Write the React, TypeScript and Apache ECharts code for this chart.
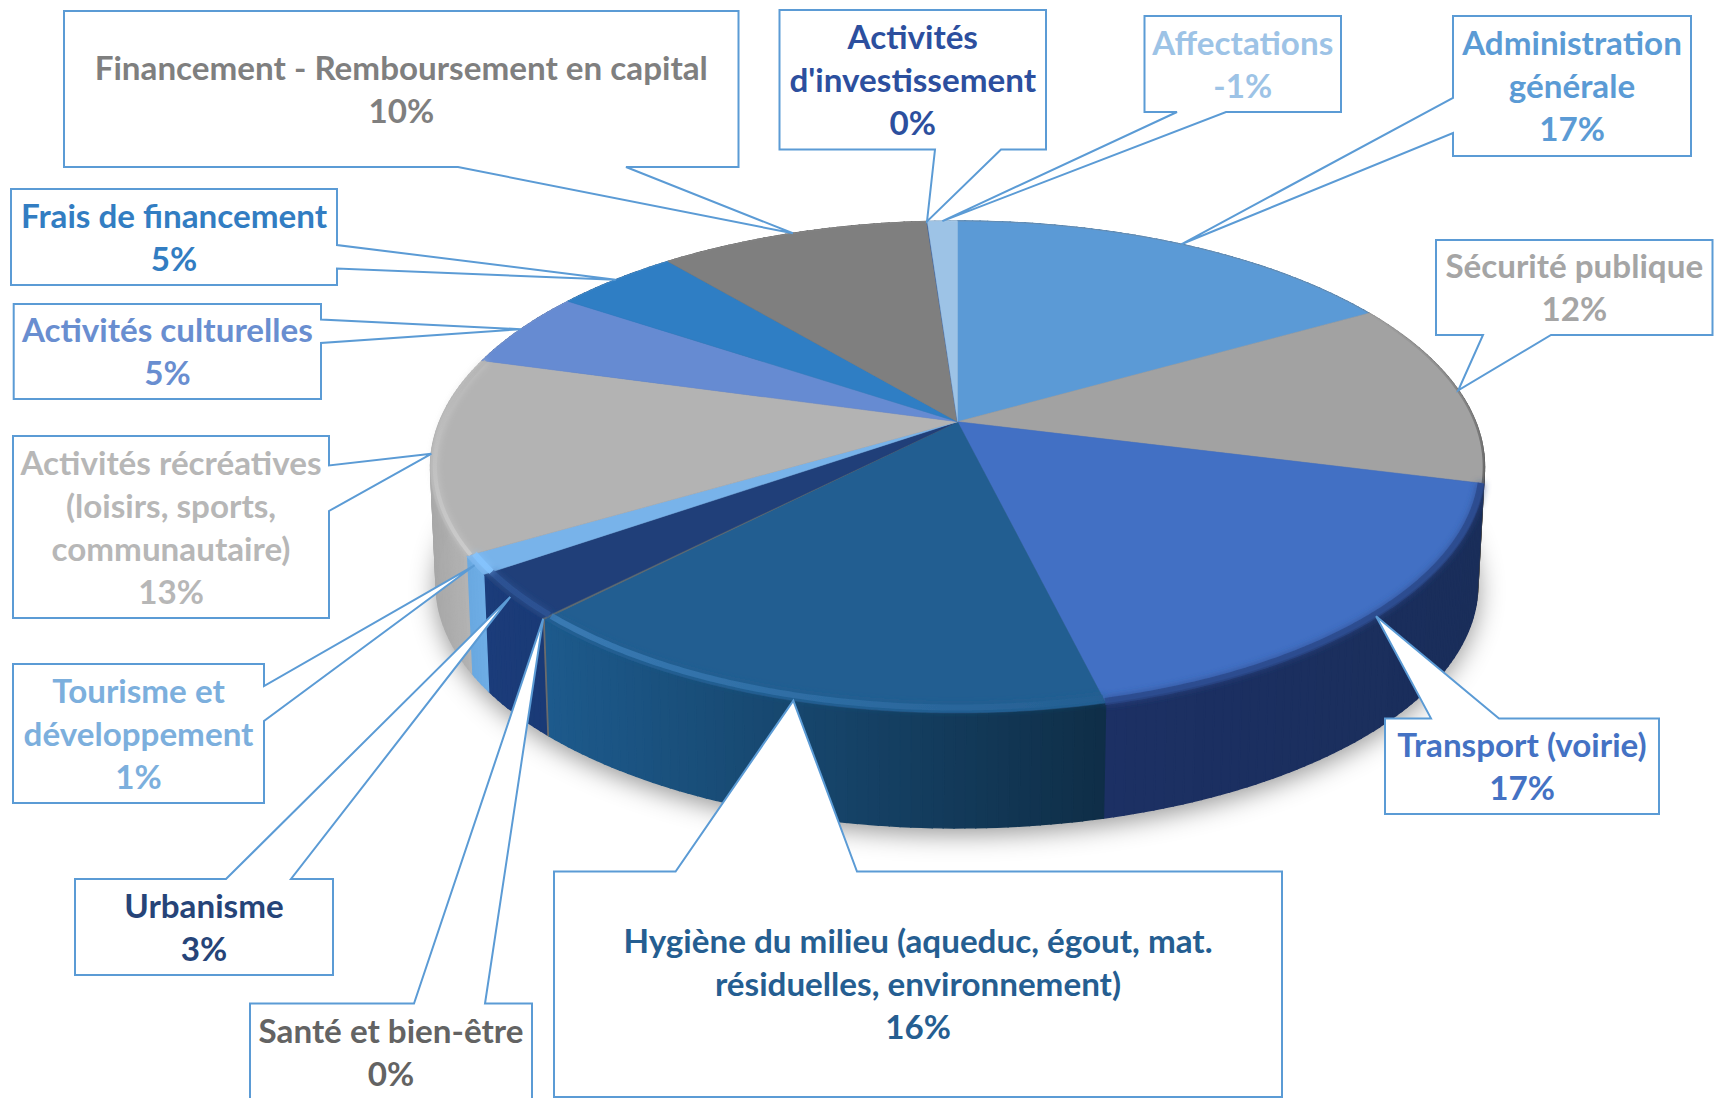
import React, { useEffect, useRef } from "react";
import * as echarts from "echarts";

// ---- data (share of spending, clockwise from 12 o'clock)
const categories = [
  "Administration\ngénérale",
  "Sécurité publique",
  "Transport (voirie)",
  "Hygiène du milieu (aqueduc, égout, mat.\nrésiduelles, environnement)",
  "Santé et bien-être",
  "Urbanisme",
  "Tourisme et\ndéveloppement",
  "Activités récréatives\n(loisirs, sports,\ncommunautaire)",
  "Activités culturelles",
  "Frais de financement",
  "Financement - Remboursement en capital",
  "Activités\nd'investissement",
  "Affectations",
];
const values = [16.7, 12.3, 17.25, 15.95, 0.08, 3.0, 1.2, 12.9, 5.1, 4.55, 9.9, 0.02, -1.1];

// ---- styles
const topColors = ["#5b9ad6", "#a2a2a2", "#4270c4", "#225e91", "#5f6a70", "#203f79", "#78b3ea", "#b3b3b3", "#668bd2", "#2f7ec4", "#7f7f7f", "#2f5597", "#9dc3e6"];
const textColors = ["#5b9bd5", "#a5a5a5", "#4472c4", "#255e91", "#636363", "#264478", "#7cafdd", "#b7b7b7", "#698ed0", "#327dc2", "#7f7f7f", "#2c4f9e", "#9dc3e6"];
const sideColors: string[][] = [
  ["#3c6f9e", "#3c6f9e"], ["#5a5a5a", "#4a4a4a"], ["#1c3064", "#1a2e5a"], ["#1d5a8c", "#0f2e47"], ["#6b6b6b", "#6b6b6b"],
  ["#1b3c7a", "#1a3a76"], ["#6aa8e0", "#6eaee6"], ["#a8a8a8", "#b8b8b8"], ["#4a6ba8", "#4a6ba8"], ["#20598e", "#20598e"],
  ["#5a5a5a", "#5a5a5a"], ["#1f3c6c", "#1f3c6c"], ["#7390ac", "#7390ac"],
];
// rim shading: colour at the start and end of a gradient, its direction, width and inset
const rimFrom = ["#6f8fae", "#a2a2a2", "#2a4788", "#3f82bd", "#6b6b6b", "#2e5596", "#86c5ff", "#b3b3b3", "#7a97d2", "#4a8fcc", "#8c8c8c", "#2f5597", "#a8c8e6"];
const rimTo = ["#6f8fae", "#555555", "#2a4788", "#245f92", "#6b6b6b", "#2e5596", "#86c5ff", "#d0d0d0", "#7a97d2", "#4a8fcc", "#8c8c8c", "#2f5597", "#a8c8e6"];
const rimDownward = [false, true, false, false, false, false, false, false, false, false, false, false, false];
const rimUpward = [false, false, false, false, false, false, false, true, false, false, false, false, false];
const rimWidths = [1, 2.5, 7, 6, 1, 6, 6, 4, 1, 1, 1, 1, 1];
const rimInsets = [1, 0.999, 0.996, 0.985, 1, 0.985, 0.985, 0.992, 1, 1, 1, 1, 1];

// ---- layout
const W = 1714;
const H = 1098;
const FACE = { cx: 957.5, cy: 421.7, R: 518, S: 237.6 };
const BASE = { cx: 957, cy: 540, R: 512, S: 235 };
const K = 5.44;
const WALL_STEPS_PER_TURN = 360;
// [left, top, right, bottom, side the pointer leaves from, pointer base a, pointer base b]
const boxes: [number, number, number, number, string, number, number][] = [
  [1453, 16, 1691, 156, "left", 98, 133],
  [1436, 240, 1712.5, 335, "bottom", 1483, 1551],
  [1385, 718.4, 1659, 814, "top", 1431, 1499],
  [554, 871.5, 1282, 1097, "top", 675.6, 857],
  [250, 1003.6, 532, 1101, "top", 414, 485],
  [75, 879, 333, 975, "top", 226, 291],
  [13, 664, 264, 803, "right", 686, 721],
  [13, 436, 329, 618, "right", 465.5, 511],
  [13.7, 304, 321, 399, "right", 319.5, 343],
  [11, 189, 337, 285, "right", 245, 268.5],
  [64, 11, 738.5, 167, "bottom", 458, 626],
  [779.5, 10, 1046, 149.5, "bottom", 935, 1001],
  [1144.5, 16, 1341, 112, "bottom", 1177, 1226],
];

const shares = values.map((v) => Math.abs(v));
const total = shares.reduce((a, b) => a + b, 0);
const startFrac = shares.map((_, i) => shares.slice(0, i).reduce((a, b) => a + b, 0) / total);
const endFrac = shares.map((_, i) => startFrac[i] + shares[i] / total);

type Disc = { cx: number; cy: number; R: number; S: number };
function project(frac: number, d: Disc, r = 1): number[] {
  const t = frac * Math.PI * 2;
  const u = Math.sin(t) * r;
  const v = -Math.cos(t) * r;
  const f = K / (K - v);
  return [d.cx + d.R * u * f, d.cy + d.S * v * f];
}
function arc(a: number, b: number, d: Disc, r = 1, perTurn = 720): number[][] {
  const n = Math.max(1, Math.ceil((b - a) * perTurn));
  const pts: number[][] = [];
  for (let i = 0; i <= n; i++) pts.push(project(a + ((b - a) * i) / n, d, r));
  return pts;
}

function buildOption() {
  const seriesData = values.map((v) => [v]);
  const graphicEls: any[] = [];
  boxes.forEach((b, i) => {
    const [l, t, r, btm, side, a, c] = b;
    const tip = project((startFrac[i] + endFrac[i]) / 2, FACE);
    let pts: number[][];
    if (side === "bottom") pts = [[l, t], [r, t], [r, btm], [c, btm], tip, [a, btm], [l, btm]];
    else if (side === "top") pts = [[l, t], [a, t], tip, [c, t], [r, t], [r, btm], [l, btm]];
    else if (side === "right") pts = [[l, t], [r, t], [r, a], tip, [r, c], [r, btm], [l, btm]];
    else pts = [[l, t], [r, t], [r, btm], [l, btm], [l, c], tip, [l, a]];
    graphicEls.push({
      type: "polygon",
      z: 100,
      shape: { points: pts },
      style: { fill: "#ffffff", stroke: "#5b9bd5", lineWidth: 2 },
    });
    graphicEls.push({
      type: "text",
      z: 101,
      x: (l + r) / 2,
      y: (t + btm) / 2 - 1,
      style: {
        text: `${categories[i]}\n${Math.round(values[i])}%`,
        fill: textColors[i],
        fontFamily: "Lato",
        fontWeight: "bold",
        fontSize: 33.2,
        lineHeight: 43,
        align: "center",
        verticalAlign: "middle",
      },
    });
  });

  return {
    animation: false,
    backgroundColor: "#ffffff",
    graphic: { elements: graphicEls },
    series: [
      {
        type: "custom",
        coordinateSystem: "none",
        silent: true,
        z: 1,
        data: [[0]],
        renderItem: () => ({
          type: "polygon",
          shape: { points: arc(0, 1, BASE) },
          style: { fill: "#777777", shadowBlur: 26, shadowColor: "rgba(0,0,0,0.42)", shadowOffsetX: 0, shadowOffsetY: 6 },
        }),
      },
      {
        type: "custom",
        coordinateSystem: "none",
        silent: true,
        z: 2,
        data: seriesData,
        renderItem: (p: any) => {
          const i = p.dataIndex;
          const top = arc(startFrac[i], endFrac[i], FACE, 1, WALL_STEPS_PER_TURN);
          const bottom = arc(startFrac[i], endFrac[i], BASE, 1, WALL_STEPS_PER_TURN);
          const xs = top.map((q) => q[0]);
          const xMin = Math.min(...xs);
          const span = Math.max(1, Math.max(...xs) - xMin);
          const children: any[] = [];
          // the wall is a strip of quads, so that it fills the outline between both discs
          for (let j = 0; j < top.length - 1; j++) {
            const t = ((top[j][0] + top[j + 1][0]) / 2 - xMin) / span;
            const col = echarts.color.lerp(t, sideColors[i]);
            children.push({
              type: "polygon",
              shape: { points: [top[j], top[j + 1], bottom[j + 1], bottom[j]] },
              style: { fill: col, stroke: col, lineWidth: 1.4 },
            });
          }
          return { type: "group", children };
        },
      },
      {
        type: "custom",
        coordinateSystem: "none",
        silent: true,
        z: 3,
        data: seriesData,
        renderItem: (p: any) => {
          const i = p.dataIndex;
          const pts = [[FACE.cx, FACE.cy], ...arc(startFrac[i], endFrac[i], FACE)];
          return { type: "polygon", shape: { points: pts }, style: { fill: topColors[i], stroke: topColors[i], lineWidth: 0.5 } };
        },
      },
      {
        type: "custom",
        coordinateSystem: "none",
        silent: true,
        z: 4,
        data: seriesData,
        renderItem: (p: any) => {
          const i = p.dataIndex;
          const w = rimWidths[i];
          const stroke = rimDownward[i]
            ? new echarts.graphic.LinearGradient(0, 0, 0, 1, [{ offset: 0, color: rimFrom[i] }, { offset: 1, color: rimTo[i] }])
            : rimUpward[i]
            ? new echarts.graphic.LinearGradient(0, 1, 0, 0, [{ offset: 0, color: rimTo[i] }, { offset: 1, color: rimFrom[i] }])
            : new echarts.graphic.LinearGradient(0, 0, 1, 0, [{ offset: 0, color: rimFrom[i] }, { offset: 1, color: rimTo[i] }]);
          return {
            type: "polyline",
            shape: { points: arc(startFrac[i], endFrac[i], FACE, rimInsets[i]) },
            style: {
              fill: "none",
              stroke,
              lineWidth: w,
              opacity: w > 1 ? 0.75 : 0.7,
              shadowBlur: w > 3 ? 7 : 0,
              shadowColor: rimTo[i],
            },
          };
        },
      },
    ],
  };
}

export default function App() {
  const ref = useRef<HTMLDivElement>(null);
  useEffect(() => {
    const chart = echarts.init(ref.current!, undefined, { renderer: "svg" });
    chart.setOption(buildOption() as any);
    return () => chart.dispose();
  }, []);
  return <div ref={ref} style={{ position: "absolute", left: 0, top: 0, width: W, height: H, overflow: "hidden" }} />;
}
